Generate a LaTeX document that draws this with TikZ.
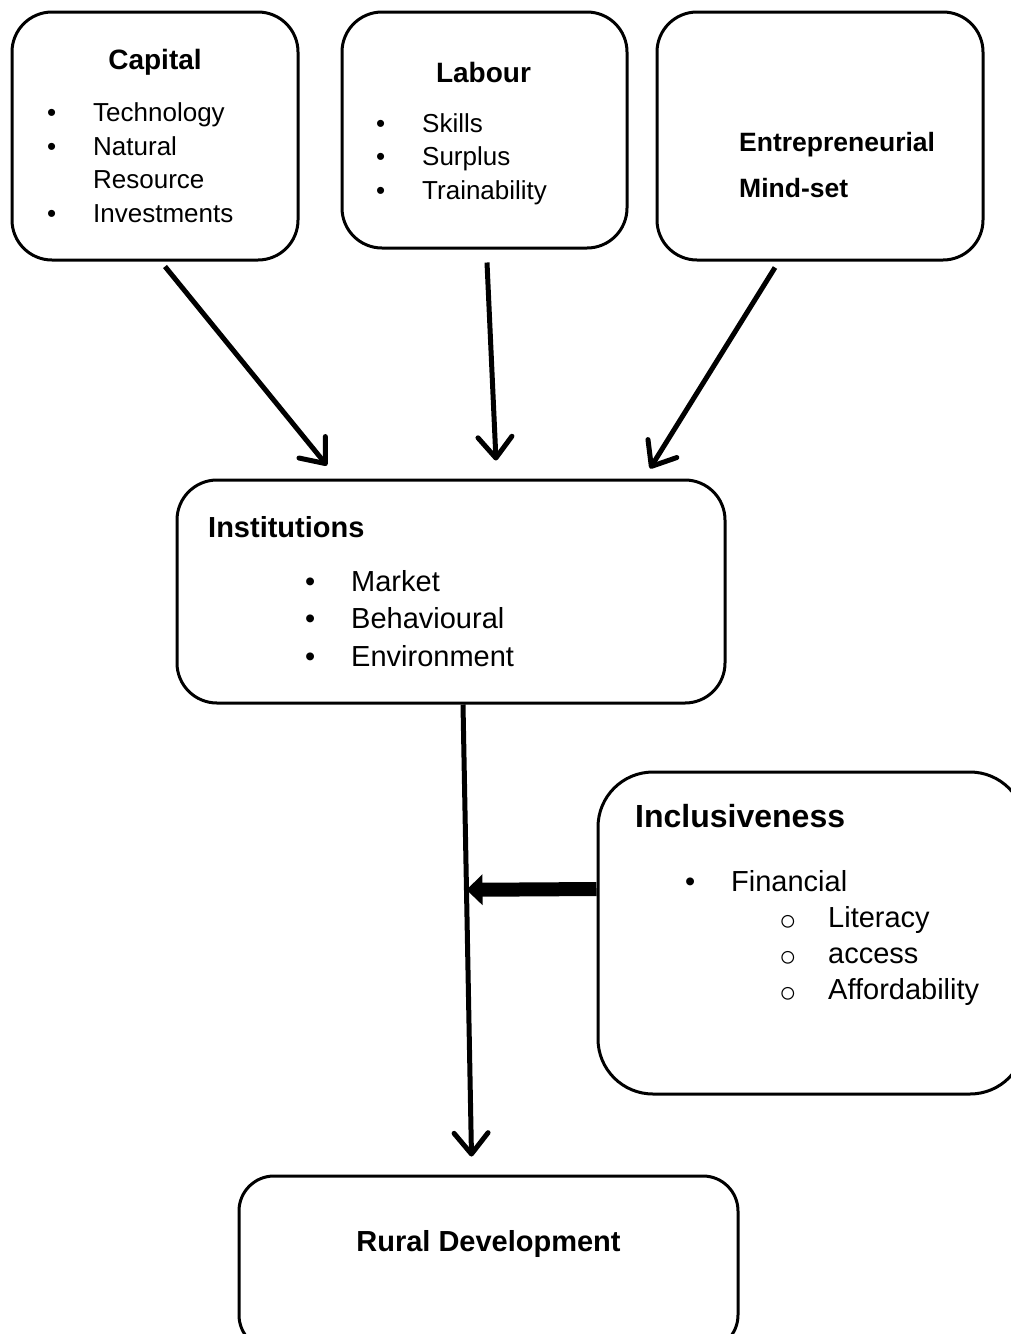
\documentclass[tikz,border=0pt]{standalone}
\usepackage{fontspec}
\setmainfont{Liberation Sans}
\usetikzlibrary{arrows.meta}

\newcommand{\itembul}{\makebox[46pt][l]{\textbullet}}
\newcommand{\subbul}{\makebox[49pt][l]{\raisebox{-3pt}{\fontsize{29}{29}\selectfont ○}}}

\begin{document}
\begin{tikzpicture}[
  x=1pt,
  y=-1pt,
  box/.style={
    draw,
    line width=3pt,
    rounded corners=40pt,
    inner sep=0pt
  },
  head/.style={anchor=base, inner sep=0pt, font=\bfseries\fontsize{28}{28}\selectfont},
  item/.style={anchor=base west, inner sep=0pt, font=\fontsize{26}{26}\selectfont},
  feed/.style={line width=5pt, -{Straight Barb[length=21pt,width=34pt,round]}},
  push/.style={line width=14pt, -{Triangle[length=16pt,width=30pt]}}
]
\useasboundingbox (0,0) rectangle (1011,1334);

% boxes
\node[box, minimum width=286pt, minimum height=248pt] (capital) at (155,136) {};
\node[box, minimum width=285pt, minimum height=236pt] (labour) at (484.5,130) {};
\node[box, minimum width=326pt, minimum height=248pt] (mindset) at (820,136) {};
\node[box, minimum width=548pt, minimum height=223pt] (inst) at (451,591.5) {};
\node[box, rounded corners=55pt, minimum width=427pt, minimum height=322pt] (incl) at (811.5,933) {};
\node[box, rounded corners=35pt, minimum width=499pt, minimum height=174pt] (rural) at (488.5,1263) {};

% capital
\node[head] (capital-t) at (155,69) {Capital};
\foreach \txt/\yy [count=\i] in {Technology/121, Natural/155, Investments/222}
  \node[item] (capital-\i) at (47,\yy) {\itembul\txt};
\node[item] (capital-r) at (93,188) {Resource};

% labour
\node[head] (labour-t) at (483.5,82) {Labour};
\foreach \txt/\yy [count=\i] in {Skills/132, Surplus/165.5, Trainability/199}
  \node[item] (labour-\i) at (376,\yy) {\itembul\txt};

% mind-set
\node[item, font=\bfseries\fontsize{26.5}{26.5}\selectfont] (mindset-1) at (739,151) {Entrepreneurial};
\node[item, font=\bfseries\fontsize{26.5}{26.5}\selectfont] (mindset-2) at (739,197) {Mind-set};

% institutions
\node[item, font=\bfseries\fontsize{29}{29}\selectfont] (inst-t) at (208,537) {Institutions};
\foreach \txt/\yy [count=\i] in {Market/591, Behavioural/628.5, Environment/666}
  \node[item, font=\fontsize{29}{29}\selectfont] (inst-\i) at (305,\yy) {\itembul\txt};

% inclusiveness
\node[item, font=\bfseries\fontsize{32}{32}\selectfont] (incl-t) at (635,827) {Inclusiveness};
\node[item, font=\fontsize{29}{29}\selectfont] (incl-f) at (685,891) {\itembul Financial};
\foreach \txt/\yy [count=\i] in {Literacy/927, access/963, Affordability/999}
  \node[item, font=\fontsize{29}{29}\selectfont] (incl-\i) at (779,\yy) {\subbul\txt};

% rural development
\node[head, font=\bfseries\fontsize{29}{29}\selectfont] (rural-t) at (488.5,1251) {Rural Development};

% arrows
\draw[feed] ([shift={(10,5)}]capital.south) -- ([shift={(-124,-13)}]inst.north);
\draw[feed] ([shift={(2.5,13)}]labour.south) -- ([shift={(45,-18)}]inst.north);
\draw[feed] ([shift={(-45,6)}]mindset.south) -- ([shift={(199,-10)}]inst.north);
\draw[feed] ([shift={(12,0)}]inst.south) -- coordinate[pos=0.41] (hit) ([shift={(-17,-18)}]rural.north);
\draw[push] ([shift={(0,-44)}]incl.west) -- (hit);
\end{tikzpicture}
\end{document}
